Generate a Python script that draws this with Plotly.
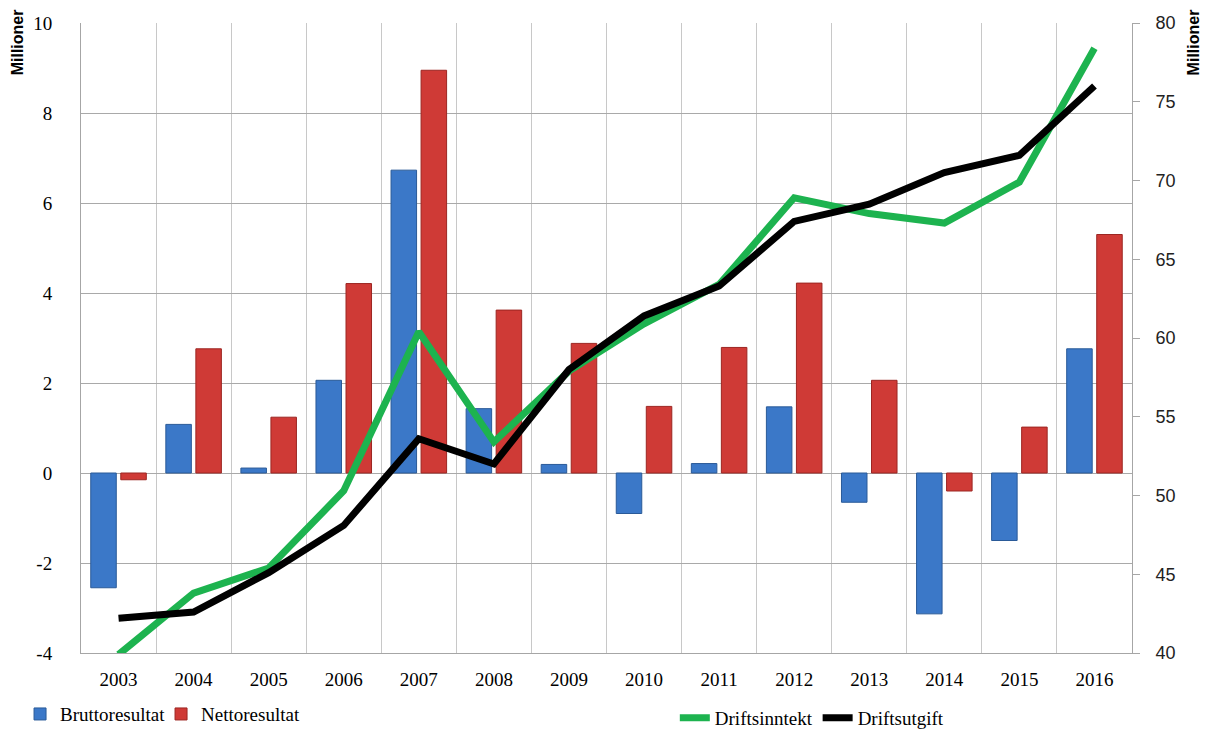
import plotly.graph_objects as go

years = ["2003", "2004", "2005", "2006", "2007", "2008", "2009",
         "2010", "2011", "2012", "2013", "2014", "2015", "2016"]
bruttoresultat = [-2.55, 1.08, 0.11, 2.06, 6.73, 1.43, 0.19, -0.90, 0.21, 1.47, -0.65, -3.13, -1.50, 2.76]
nettoresultat = [-0.15, 2.76, 1.24, 4.21, 8.95, 3.62, 2.88, 1.48, 2.79, 4.22, 2.06, -0.40, 1.02, 5.30]
driftsinntekt = [39.9, 43.8, 45.4, 50.3, 60.4, 53.4, 57.9, 60.9, 63.4, 68.9, 67.9, 67.3, 69.9, 78.4]
driftsutgift = [42.2, 42.6, 45.1, 48.1, 53.6, 52.0, 58.0, 61.4, 63.3, 67.4, 68.5, 70.5, 71.6, 76.0]

left_ticks = [-4, -2, 0, 2, 4, 6, 8, 10]
left_labels = ["-4", "-2", "0", "2", "4", "6", "8", "10"]
right_ticks = [40, 45, 50, 55, 60, 65, 70, 75, 80]

serif = "Liberation Serif"
sans = "Liberation Sans"

fig = go.Figure()
fig.add_trace(go.Bar(
    x=years, y=bruttoresultat, name="Bruttoresultat",
    marker=dict(color="#3b78c8", line=dict(color="#2a5a98", width=1)),
    legend="legend", yaxis="y",
))
fig.add_trace(go.Bar(
    x=years, y=nettoresultat, name="Nettoresultat",
    marker=dict(color="#cf3a36", line=dict(color="#9c2622", width=1)),
    legend="legend", yaxis="y",
))
fig.add_trace(go.Scatter(
    x=years, y=driftsinntekt, name="Driftsinntekt", mode="lines",
    line=dict(color="#1db34f", width=7), legend="legend2", yaxis="y2",
))
fig.add_trace(go.Scatter(
    x=years, y=driftsutgift, name="Driftsutgift", mode="lines",
    line=dict(color="#000000", width=7), legend="legend2", yaxis="y2",
))

fig.update_layout(
    width=1206, height=729,
    margin=dict(l=81, r=74, t=23, b=76, autoexpand=False),
    paper_bgcolor="white", plot_bgcolor="white",
    barmode="group", bargap=0.2, bargroupgap=0.15,
    xaxis=dict(
        type="category", tickson="boundaries",
        showgrid=True, gridcolor="#c8c8c8", gridwidth=1,
        showline=True, linecolor="#a6a6a6", linewidth=1, mirror=False,
        ticks="", tickfont=dict(family=serif, size=19, color="black"),
        ticklabelstandoff=9, automargin=False,
    ),
    yaxis=dict(
        range=[-4, 10], tickvals=left_ticks, ticktext=left_labels,
        showgrid=True, gridcolor="#a9a9a9", gridwidth=1,
        zeroline=False,
        showline=True, linecolor="#a6a6a6", linewidth=1,
        ticks="", tickfont=dict(family=serif, size=19, color="black"),
        ticklabelstandoff=24, automargin=False,
    ),
    yaxis2=dict(
        range=[40, 80], tickvals=right_ticks,
        overlaying="y", side="right", showgrid=False, zeroline=False,
        showline=True, linecolor="#a6a6a6", linewidth=1,
        ticks="outside", ticklen=7, tickcolor="#a6a6a6",
        tickfont=dict(family=sans, size=18, color="#222222"),
        ticklabelstandoff=12, automargin=False,
    ),
    legend=dict(
        orientation="h", x=-0.058, y=-0.097, xanchor="left", yanchor="middle",
        font=dict(family=serif, size=19, color="black"),
        bgcolor="rgba(0,0,0,0)", itemwidth=30, entrywidth=96,
    ),
    legend2=dict(
        orientation="h", x=0.565, y=-0.103, xanchor="left", yanchor="middle",
        font=dict(family=serif, size=19, color="black"),
        bgcolor="rgba(0,0,0,0)", itemwidth=30,
    ),
    annotations=[
        dict(text="<b>Millioner</b>", xref="paper", yref="paper",
             x=-0.0605, y=0.97, xanchor="center", yanchor="middle",
             textangle=-90, showarrow=False,
             font=dict(family=sans, size=16, color="black")),
        dict(text="<b>Millioner</b>", xref="paper", yref="paper",
             x=1.0585, y=0.97, xanchor="center", yanchor="middle",
             textangle=-90, showarrow=False,
             font=dict(family=sans, size=16, color="black")),
    ],
)

fig.write_html("out.html", config={"displayModeBar": False},
               post_script="document.body.style.margin='0';")
